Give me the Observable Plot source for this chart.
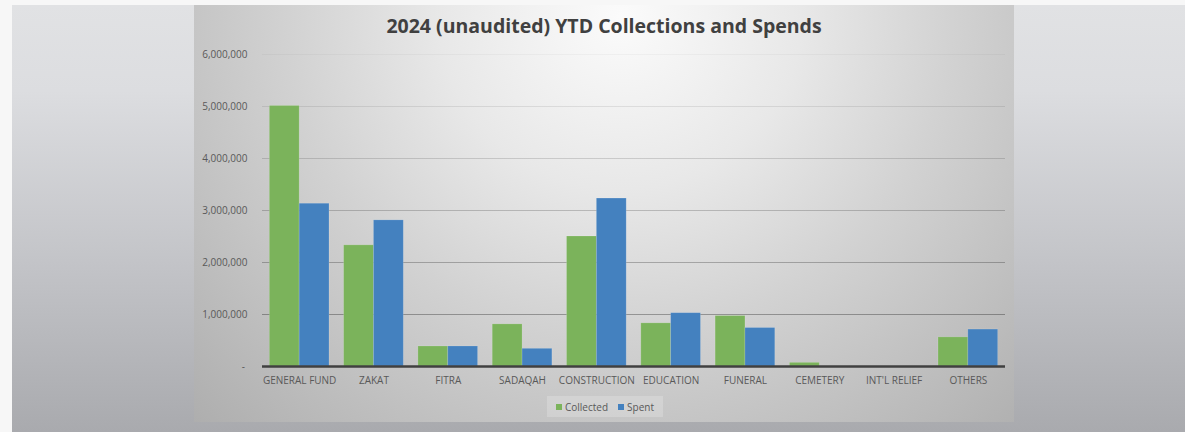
<!DOCTYPE html>
<html>
<head>
<meta charset="utf-8">
<script src="https://cdn.jsdelivr.net/npm/d3@7"></script>
<script src="https://cdn.jsdelivr.net/npm/@observablehq/plot@0.6"></script>
<style>
  html, body { margin: 0; padding: 0; }
  body { width: 1185px; height: 432px; overflow: hidden; position: relative; background: #f7f7f7; font-family: "Open Sans", sans-serif; }
  #panel { position: absolute; left: 12px; top: 5px; width: 1173px; height: 427px; background: linear-gradient(#e1e2e4 0%, #dcdde0 20%, #c3c4c8 60%, #a9aaae 100%); }
  #box { position: absolute; left: 194px; top: 5px; width: 820px; height: 417px;
         background: radial-gradient(farthest-corner at 52% 3%, #fbfbfb 0%, #e8e8e8 30%, #d2d2d2 55%, #aeaeae 100%); }
  #title { position: absolute; left: 0; top: 7px; width: 820px; text-align: center; font-weight: 700; font-size: 19.5px; line-height: 28px; color: #404040; }
  #chart { position: absolute; left: 0; top: 35px; }
  #legend { position: absolute; left: 353px; top: 391px; width: 116px; height: 21px; background: rgba(255,255,255,0.2);
            display: flex; align-items: center; justify-content: center; font-size: 10px; color: #595959; }
  .sw { width: 6px; height: 6px; display: inline-block; margin-right: 3px; }
  .item { display: flex; align-items: center; }
  .item + .item { margin-left: 10px; }
</style>
</head>
<body>
<div id="panel"></div>
<div id="box">
  <div id="title">2024 (unaudited) YTD Collections and Spends</div>
  <div id="chart"></div>
  <div id="legend"></div>
</div>
<script>
const categories = ["GENERAL FUND", "ZAKAT", "FITRA", "SADAQAH", "CONSTRUCTION", "EDUCATION", "FUNERAL", "CEMETERY", "INT'L RELIEF", "OTHERS"];
const collected = [5010000, 2330000, 385000, 810000, 2500000, 830000, 970000, 70000, 0, 560000];
const spent = [3130000, 2810000, 385000, 340000, 3230000, 1025000, 740000, 0, 0, 710000];
const seriesNames = ["Collected", "Spent"];
const seriesColors = ["#7bb35b", "#4481bf"];
const yTicks = [0, 1000000, 2000000, 3000000, 4000000, 5000000, 6000000];

const rowsC = categories.map((c, i) => ({category: c, value: collected[i]}));
const rowsS = categories.map((c, i) => ({category: c, value: spent[i]}));

const W = 820, H = 352;
const mL = 68, mR = 9, mT = 14, mB = 26;
const step = (W - mL - mR) / categories.length;
const gap = step * 0.197 / 2;
const barW = (step - 2 * gap) / 2;

const fmt = d3.format(",");
const chart = Plot.plot({
  width: W, height: H,
  marginLeft: mL, marginRight: mR, marginTop: mT, marginBottom: mB,
  style: {background: "transparent", fontFamily: "'Open Sans', sans-serif", fontSize: "10px", color: "#595959", overflow: "visible"},
  x: {domain: categories, padding: 0, round: false, label: null},
  y: {domain: [0, 6000000], label: null},
  opacity: {type: "identity"},
  marks: [
    Plot.ruleY(yTicks.filter(v => v > 0), {stroke: "#000", strokeWidth: 1, strokeOpacity: v => 0.36 - 0.055 * v / 1e6}),
    Plot.barY(rowsC, {x: "category", y: "value", fill: seriesColors[0], insetLeft: gap, insetRight: gap + barW, stroke: "#ffffff", strokeOpacity: 0.18, strokeWidth: 0.8}),
    Plot.barY(rowsS, {x: "category", y: "value", fill: seriesColors[1], insetLeft: gap + barW, insetRight: gap, stroke: "#ffffff", strokeOpacity: 0.18, strokeWidth: 0.8}),
    Plot.ruleY([0], {stroke: "#404040", strokeWidth: 2.5}),
    Plot.axisY({ticks: yTicks, tickSize: 0, tickPadding: 15, tickFormat: v => v === 0 ? "-\u00a0" : fmt(v), label: null}),
    Plot.axisX({tickSize: 0, tickPadding: 10, label: null})
  ]
});
document.getElementById("chart").appendChild(chart);

const legend = document.getElementById("legend");
seriesNames.forEach((n, i) => {
  const it = document.createElement("div");
  it.className = "item";
  const sw = document.createElement("span");
  sw.className = "sw";
  sw.style.background = seriesColors[i];
  const t = document.createElement("span");
  t.textContent = n;
  it.appendChild(sw); it.appendChild(t);
  legend.appendChild(it);
});
</script>
</body>
</html>
